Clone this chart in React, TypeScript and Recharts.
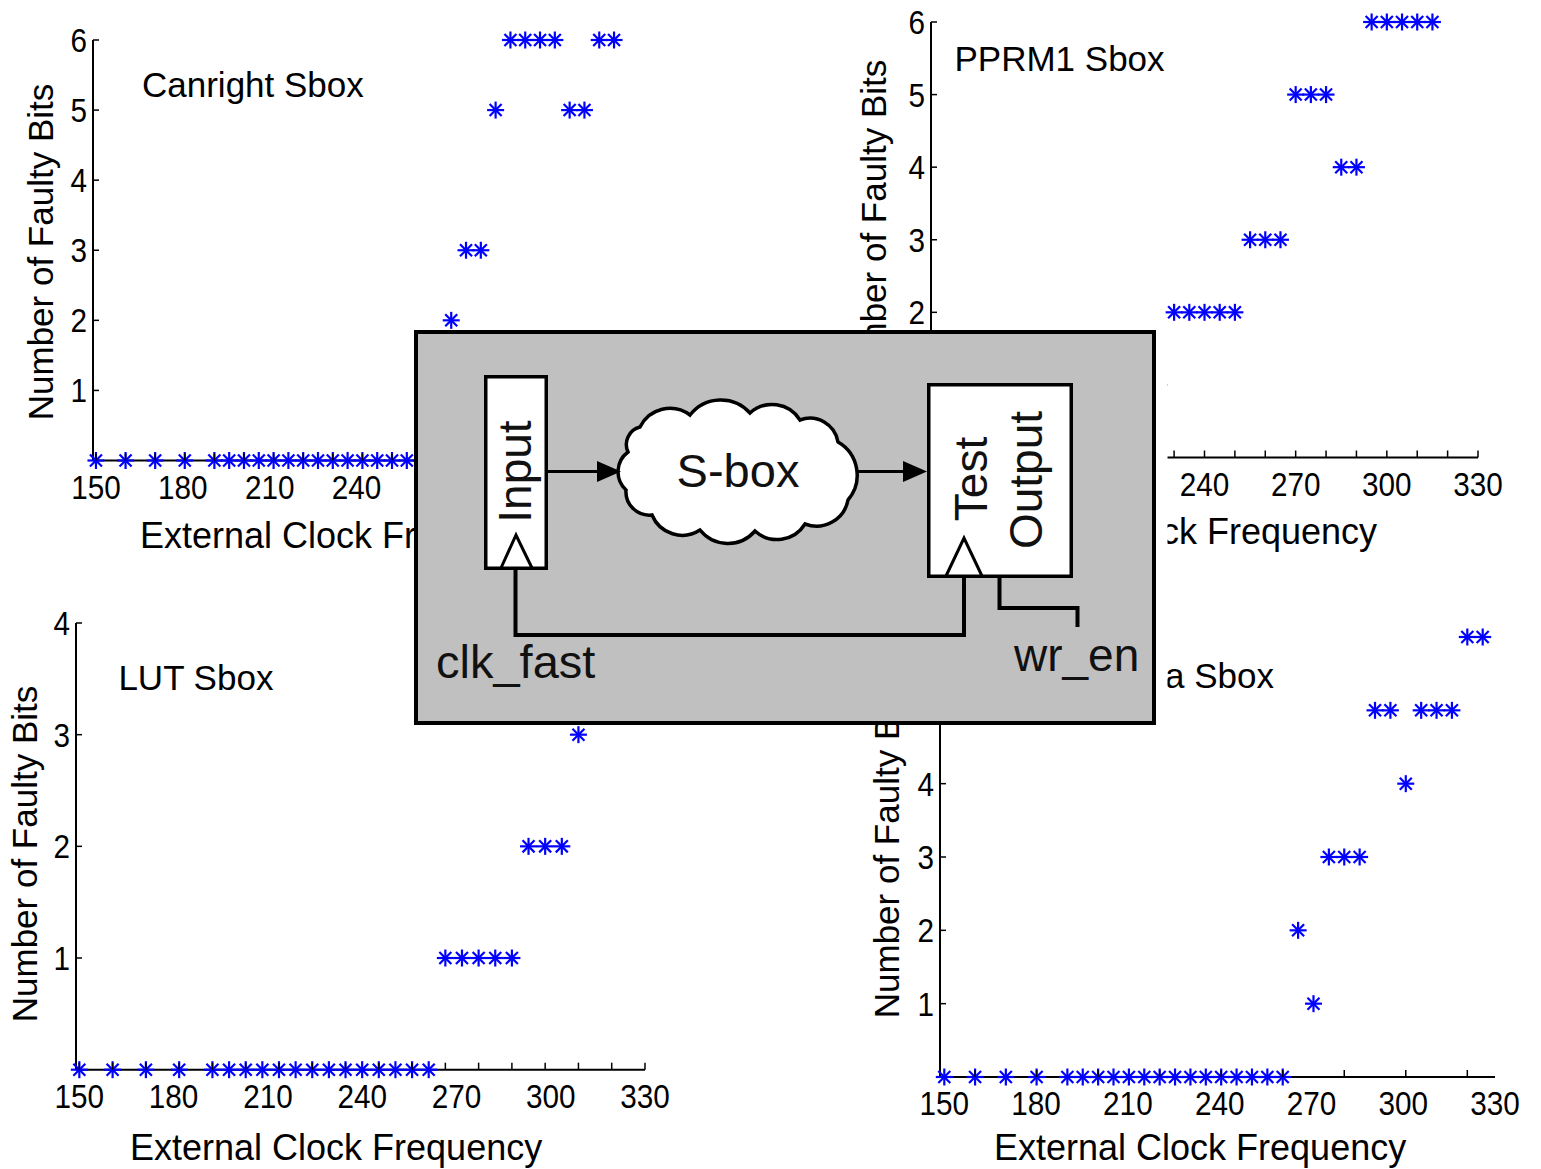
import React from 'react';
import { ScatterChart, Scatter, XAxis, YAxis } from 'recharts';

// ---------------- data ----------------
const canrightFreq = [150, 160, 170, 180, 190, 195, 200, 205, 210, 215, 220, 225, 230, 235, 240, 245, 250, 255, 260, 265, 270, 275, 280, 285, 290, 295, 300, 305, 310, 315, 320, 325];
const canrightBits = [0, 0, 0, 0, 0, 0, 0, 0, 0, 0, 0, 0, 0, 0, 0, 0, 0, 0, 0, 1, 2, 3, 3, 5, 6, 6, 6, 6, 5, 5, 6, 6];

const pprm1Freq = [150, 160, 170, 180, 190, 195, 200, 205, 210, 215, 220, 225, 230, 235, 240, 245, 250, 255, 260, 265, 270, 275, 280, 285, 290, 295, 300, 305, 310, 315];
const pprm1Bits = [0, 0, 0, 0, 0, 0, 0, 0, 0, 0, 0, 1, 2, 2, 2, 2, 2, 3, 3, 3, 5, 5, 5, 4, 4, 6, 6, 6, 6, 6];

const lutFreq = [150, 160, 170, 180, 190, 195, 200, 205, 210, 215, 220, 225, 230, 235, 240, 245, 250, 255, 260, 265, 270, 275, 280, 285, 290, 295, 300, 305, 310, 315, 320];
const lutBits = [0, 0, 0, 0, 0, 0, 0, 0, 0, 0, 0, 0, 0, 0, 0, 0, 0, 0, 1, 1, 1, 1, 1, 2, 2, 2, 3, 4, 4, 4, 4];

const fourthFreq = [150, 160, 170, 180, 190, 195, 200, 205, 210, 215, 220, 225, 230, 235, 240, 245, 250, 255, 260, 265, 270, 275, 280, 285, 290, 295, 300, 305, 310, 315, 320, 325];
const fourthBits = [0, 0, 0, 0, 0, 0, 0, 0, 0, 0, 0, 0, 0, 0, 0, 0, 0, 0, 0, 2, 1, 3, 3, 3, 5, 5, 4, 5, 5, 5, 6, 6];

const xTickLabels = ['150', '180', '210', '240', '270', '300', '330'];
const yTicks6 = [1, 2, 3, 4, 5, 6];
const yTicks4 = [1, 2, 3, 4];
const minorTL = [150, 160, 170, 180, 190, 200, 210, 220, 230, 240, 250, 260, 270, 280, 290, 300, 310, 320];
const minorTR = [150, 160, 170, 180, 190, 200, 210, 220, 230, 240, 250, 260, 270, 280, 290, 300, 310, 320, 330];
const minorBL = [150, 160, 170, 180, 190, 200, 210, 220, 230, 240, 250, 260, 270, 280, 290, 300, 310, 320];
const minorBR = [160, 180, 200, 220, 240, 260, 280, 300, 320];

const titles = ['Canright Sbox', 'PPRM1 Sbox', 'LUT Sbox', 'a Sbox'];
const xTitle = 'External Clock Frequency';
const yTitle = 'Number of Faulty Bits';

// ---------------- styling ----------------
const FONT = "'Liberation Sans', Arial, Helvetica, sans-serif";
const BLUE = '#0000ff';
const YW = 100;
const MT = 20;
const MR = 45;
const XH = 60;
const TICK_FS = 33;
const TICK_SX = 0.9;

type Spec = {
  freq: number[];
  bits: number[];
  left: number;
  right: number;
  top: number;
  bottom: number;
  xMin: number;
  xMax: number;
  yMax: number;
  yTicks: number[];
  minor: number[];
};

const labelPositions = (xMax: number) => xTickLabels.map((_, i) => 150 + (i * (xMax - 150)) / 6);

const Star = (props: any) => {
  const { cx, cy } = props;
  if (cx == null || cy == null) return null;
  const r = 8.5;
  const d = r * 0.7071;
  return (
    <g stroke={BLUE} strokeWidth={2.2}>
      <line x1={cx - r} y1={cy} x2={cx + r} y2={cy} />
      <line x1={cx} y1={cy - r} x2={cx} y2={cy + r} />
      <line x1={cx - d} y1={cy - d} x2={cx + d} y2={cy + d} />
      <line x1={cx - d} y1={cy + d} x2={cx + d} y2={cy - d} />
    </g>
  );
};

const makeXTick = (labelPos: number[], minor: number[]) => (props: any) => {
  const { x, y, payload } = props;
  const v = payload.value;
  const li = labelPos.findIndex((p) => Math.abs(p - v) < 1e-6);
  const isMinor = minor.some((m) => Math.abs(m - v) < 1e-6);
  return (
    <g>
      {isMinor && <line x1={x} y1={y} x2={x} y2={y - 7} stroke="#000" strokeWidth={1.5} />}
      {li >= 0 && (
        <text
          transform={`translate(${x},${y + 38}) scale(${TICK_SX},1)`}
          x={0}
          y={0}
          textAnchor="middle"
          fontSize={TICK_FS}
          fontFamily={FONT}
          fill="#000"
        >
          {xTickLabels[li]}
        </text>
      )}
    </g>
  );
};

const YTick = (props: any) => {
  const { x, y, payload } = props;
  return (
    <g>
      <line x1={x} y1={y} x2={x + 6} y2={y} stroke="#000" strokeWidth={1.5} />
      <text
        transform={`translate(${x - 6},${y + 12}) scale(${TICK_SX},1)`}
        x={0}
        y={0}
        textAnchor="end"
        fontSize={TICK_FS}
        fontFamily={FONT}
        fill="#000"
      >
        {payload.value}
      </text>
    </g>
  );
};

function Plot({ spec }: { spec: Spec }) {
  const w = YW + (spec.right - spec.left) + MR;
  const h = MT + (spec.bottom - spec.top) + XH;
  const data = spec.freq.map((f, i) => ({ x: f, y: spec.bits[i] }));
  const lp = labelPositions(spec.xMax);
  const ticks = Array.from(new Set([...spec.minor, ...lp])).sort((a, b) => a - b);
  return (
    <div style={{ position: 'absolute', left: spec.left - YW, top: spec.top - MT, width: w, height: h }}>
      <ScatterChart width={w} height={h} margin={{ top: MT, right: MR, bottom: 0, left: 0 }}>
        <XAxis
          type="number"
          dataKey="x"
          domain={[spec.xMin, spec.xMax]}
          ticks={ticks}
          interval={0}
          height={XH}
          tickSize={0}
          tickMargin={0}
          tickLine={false}
          axisLine={{ stroke: '#000', strokeWidth: 2 }}
          tick={makeXTick(lp, spec.minor)}
        />
        <YAxis
          type="number"
          dataKey="y"
          domain={[0, spec.yMax]}
          ticks={spec.yTicks}
          interval={0}
          width={YW}
          tickSize={0}
          tickMargin={0}
          tickLine={false}
          axisLine={{ stroke: '#000', strokeWidth: 2 }}
          tick={YTick}
        />
        <Scatter data={data} shape={<Star />} isAnimationActive={false} />
      </ScatterChart>
    </div>
  );
}

const specs: Spec[] = [
  { freq: canrightFreq, bits: canrightBits, left: 93, right: 617, top: 39.5, bottom: 460, xMin: 149, xMax: 326, yMax: 6, yTicks: yTicks6, minor: minorTL },
  { freq: pprm1Freq, bits: pprm1Bits, left: 931, right: 1478, top: 22, bottom: 457.5, xMin: 150, xMax: 330, yMax: 6, yTicks: yTicks6, minor: minorTR },
  { freq: lutFreq, bits: lutBits, left: 76, right: 645, top: 623.3, bottom: 1070, xMin: 149, xMax: 320, yMax: 4, yTicks: yTicks4, minor: minorBL },
  { freq: fourthFreq, bits: fourthBits, left: 940, right: 1495, top: 636.5, bottom: 1076.5, xMin: 148.6, xMax: 329, yMax: 6, yTicks: yTicks6, minor: minorBR },
];

// cloud outline cusps (decorative diagram geometry)
const cloudCusps: [number, number][] = [
  [640, 427], [690, 415], [750, 413], [800, 420], [838, 442], [848, 500],
  [805, 524], [755, 531], [700, 530], [652, 515], [626, 490], [628, 452],
];

function cloudPath(pts: [number, number][], k: number) {
  let d = `M ${pts[0][0]} ${pts[0][1]}`;
  for (let i = 0; i < pts.length; i++) {
    const a = pts[i];
    const b = pts[(i + 1) % pts.length];
    const c = Math.hypot(b[0] - a[0], b[1] - a[1]);
    const r = c * k;
    d += ` A ${r} ${r} 0 0 1 ${b[0]} ${b[1]}`;
  }
  return d + ' Z';
}

function Overlay() {
  const t = { fontFamily: FONT, fill: '#000' } as const;
  const dt = { fontFamily: FONT, fill: '#111' } as const;
  return (
    <svg width={1541} height={1169} style={{ position: 'absolute', left: 0, top: 0 }}>
      {/* subplot titles */}
      <text x={142} y={96.7} fontSize={35} {...t}>{titles[0]}</text>
      <text x={954.5} y={70.7} fontSize={35} {...t}>{titles[1]}</text>
      <text x={118.4} y={690} fontSize={35} {...t}>{titles[2]}</text>
      <text x={1274} y={688} fontSize={35} textAnchor="end" {...t}>{titles[3]}</text>

      {/* axis titles */}
      <text x={140} y={548} fontSize={36} {...t}>{xTitle}</text>
      <text x={1377} y={544} fontSize={36} textAnchor="end" {...t}>{xTitle}</text>
      <text x={130} y={1160} fontSize={36} {...t}>{xTitle}</text>
      <text x={994} y={1160} fontSize={36} {...t}>{xTitle}</text>

      <text transform="translate(53,252) rotate(-90)" textAnchor="middle" fontSize={35} {...t}>{yTitle}</text>
      <text transform="translate(886,228) rotate(-90)" textAnchor="middle" fontSize={35} {...t}>{yTitle}</text>
      <text transform="translate(37,854) rotate(-90)" textAnchor="middle" fontSize={35} {...t}>{yTitle}</text>
      <text transform="translate(899,850) rotate(-90)" textAnchor="middle" fontSize={35} {...t}>{yTitle}</text>

      {/* overlay diagram */}
      <rect x={1156} y={329} width={11.5} height={397} fill="#fff" />
      <rect x={416} y={332} width={738} height={391} fill="#c0c0c0" stroke="#000" strokeWidth={4} />
      <rect x={485.75} y={376.75} width={60.5} height={191.5} fill="#fff" stroke="#000" strokeWidth={3.5} />
      <rect x={928.75} y={384.75} width={142.5} height={191.5} fill="#fff" stroke="#000" strokeWidth={3.5} />
      <path d={cloudPath(cloudCusps, 0.65)} fill="#fff" stroke="#000" strokeWidth={3.5} />

      <line x1={548} y1={471.5} x2={600} y2={471.5} stroke="#000" strokeWidth={3} />
      <polygon points="597,461 621,471.5 597,482" fill="#000" />
      <line x1={858} y1={471.5} x2={905} y2={471.5} stroke="#000" strokeWidth={3} />
      <polygon points="903,461 927,471.5 903,482" fill="#000" />

      <polyline points="501,568 516,535 532,568" fill="none" stroke="#000" strokeWidth={3} />
      <polyline points="946,576 964,538 982,576" fill="none" stroke="#000" strokeWidth={3} />
      <polyline points="515.5,568 515.5,635 964,635 964,576" fill="none" stroke="#000" strokeWidth={4} />
      <polyline points="999.5,578 999.5,608 1077.5,608 1077.5,627" fill="none" stroke="#000" strokeWidth={4} />

      <text transform="translate(531,471.5) rotate(-90)" textAnchor="middle" fontSize={46} {...dt}>Input</text>
      <text x={738} y={486.5} textAnchor="middle" fontSize={47} {...dt}>S-box</text>
      <text transform="translate(987,479) rotate(-90)" textAnchor="middle" fontSize={46} {...dt}>Test</text>
      <text transform="translate(1042,480) rotate(-90)" textAnchor="middle" fontSize={46} {...dt}>Output</text>
      <text x={436} y={678} fontSize={47} {...dt}>clk_fast</text>
      <text x={1014} y={671} fontSize={46} {...dt}>wr_en</text>
    </svg>
  );
}

export default function App() {
  return (
    <div style={{ position: 'absolute', left: 0, top: 0, width: 1541, height: 1169, background: '#fff', overflow: 'hidden' }}>
      {specs.map((s, i) => (
        <Plot key={i} spec={s} />
      ))}
      <Overlay />
    </div>
  );
}
